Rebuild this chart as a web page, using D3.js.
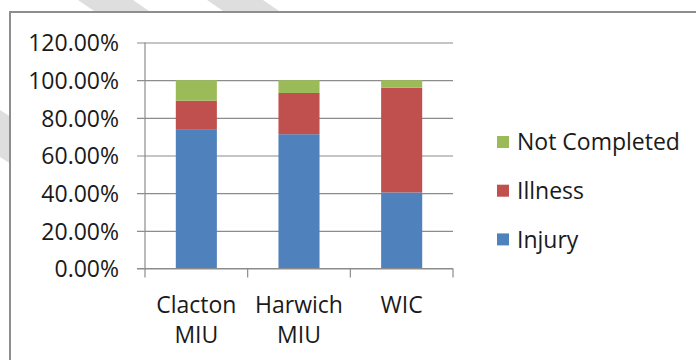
<!DOCTYPE html>
<html>
<head>
<meta charset="utf-8">
<script src="https://cdn.jsdelivr.net/npm/d3@7/dist/d3.min.js"></script>
<style>
  html, body { margin: 0; padding: 0; background: #ffffff; }
  svg { display: block; }
  text { font-family: "Open Sans", "Noto Sans", sans-serif; fill: #1a1a1a; }
</style>
</head>
<body>
<svg id="chart" width="696" height="360"></svg>
<script>
// Share of attendances by type at each unit (percent)
const categories = ["Clacton MIU", "Harwich MIU", "WIC"];
const injury = [74.0, 71.3, 40.4];
const illness = [15.1, 21.9, 55.6];
const notCompleted = [10.9, 6.8, 4.0];
const yTicks = [0, 20, 40, 60, 80, 100, 120];
const seriesNames = ["Injury", "Illness", "Not Completed"];
const seriesColors = ["#4f81bd", "#c0504d", "#9bbb59"];

const svg = d3.select("#chart");
const W = 696, H = 360;
const fontSize = "23px";

svg.append("rect").attr("width", W).attr("height", H).attr("fill", "#ffffff");

// faint diagonal background bands outside the chart frame
const bands = svg.append("g").attr("fill", "#dedede");
[
  [[78, 0], [133, 0], [152, 13], [97, 13]],
  [[207, 0], [263, 0], [282, 13], [226, 13]],
  [[0, 110], [11, 117], [11, 164], [0, 157]]
].forEach(p => bands.append("polygon").attr("points", p.map(d => d.join(",")).join(" ")));

// chart frame
svg.append("rect")
  .attr("x", 10).attr("y", 12)
  .attr("width", 720).attr("height", 400)
  .attr("fill", "#ffffff")
  .attr("stroke", "#8e8e8e").attr("stroke-width", 2);

const plot = { left: 145, right: 453, top: 42.5, bottom: 268.5 };

const x = d3.scaleBand()
  .domain(categories)
  .range([plot.left, plot.right])
  .paddingInner(0.6)
  .paddingOuter(0.3);

const y = d3.scaleLinear().domain([0, 120]).range([plot.bottom, plot.top]);

// gridlines and y ticks
const yAxis = d3.axisLeft(y)
  .tickValues(yTicks)
  .tickSize(-(plot.right - plot.left))
  .tickPadding(18)
  .tickFormat(d => d3.format(".2f")(d) + "%");

const gy = svg.append("g")
  .attr("transform", `translate(${plot.left},0)`)
  .call(yAxis);
gy.select(".domain").remove();
gy.selectAll(".tick line")
  .attr("x1", -8)
  .attr("stroke", "#8c8c8c")
  .attr("stroke-width", 1.2);
gy.selectAll(".tick text")
  .attr("x", -26)
  .attr("dy", "0.36em")
  .style("font-size", fontSize)
  .style("font-family", "'Open Sans', sans-serif")
  .attr("fill", "#1a1a1a");

// vertical axis line
svg.append("line")
  .attr("x1", plot.left).attr("x2", plot.left)
  .attr("y1", y(120)).attr("y2", y(0))
  .attr("stroke", "#8c8c8c").attr("stroke-width", 1.2);

// stacked bars
const rows = categories.map((c, i) => ({
  cat: c, Injury: injury[i], Illness: illness[i], "Not Completed": notCompleted[i]
}));
const stack = d3.stack().keys(seriesNames)(rows);

svg.append("g").selectAll("g")
  .data(stack)
  .join("g")
  .attr("fill", (d, i) => seriesColors[i])
  .selectAll("rect")
  .data(d => d)
  .join("rect")
  .attr("x", d => x(d.data.cat))
  .attr("width", x.bandwidth())
  .attr("y", d => y(d[1]))
  .attr("height", d => y(d[0]) - y(d[1]));

// category axis with boundary ticks
const gx = svg.append("g");
gx.append("line")
  .attr("x1", plot.left - 8).attr("x2", plot.right)
  .attr("y1", y(0)).attr("y2", y(0))
  .attr("stroke", "#8c8c8c").attr("stroke-width", 1.2);
const bounds = d3.range(categories.length + 1).map(i => plot.left + i * x.step());
gx.selectAll("line.sep")
  .data(bounds)
  .join("line")
  .attr("class", "sep")
  .attr("x1", d => d).attr("x2", d => d)
  .attr("y1", y(0)).attr("y2", y(0) + 9)
  .attr("stroke", "#8c8c8c").attr("stroke-width", 1.2);

const labels = gx.selectAll("text.cat")
  .data(categories)
  .join("text")
  .attr("class", "cat")
  .attr("text-anchor", "middle")
  .attr("x", d => x(d) + x.bandwidth() / 2)
  .attr("y", 313)
  .style("font-size", fontSize);
labels.each(function (d) {
  const parts = d.split(" ");
  const t = d3.select(this);
  parts.forEach((p, j) => {
    t.append("tspan")
      .attr("x", x(d) + x.bandwidth() / 2)
      .attr("dy", j === 0 ? 0 : 30)
      .text(p);
  });
});

// legend, top entry is the top of the stack
const legendItems = seriesNames.map((n, i) => ({ name: n, color: seriesColors[i] })).reverse();
const legend = svg.append("g");
const lg = legend.selectAll("g")
  .data(legendItems)
  .join("g")
  .attr("transform", (d, i) => `translate(497,${142 + i * 48.7})`);
lg.append("rect")
  .attr("x", 0).attr("y", -6)
  .attr("width", 12).attr("height", 12)
  .attr("fill", d => d.color);
lg.append("text")
  .attr("x", 20)
  .attr("dy", "0.36em")
  .style("font-size", fontSize)
  .text(d => d.name);
</script>
</body>
</html>
